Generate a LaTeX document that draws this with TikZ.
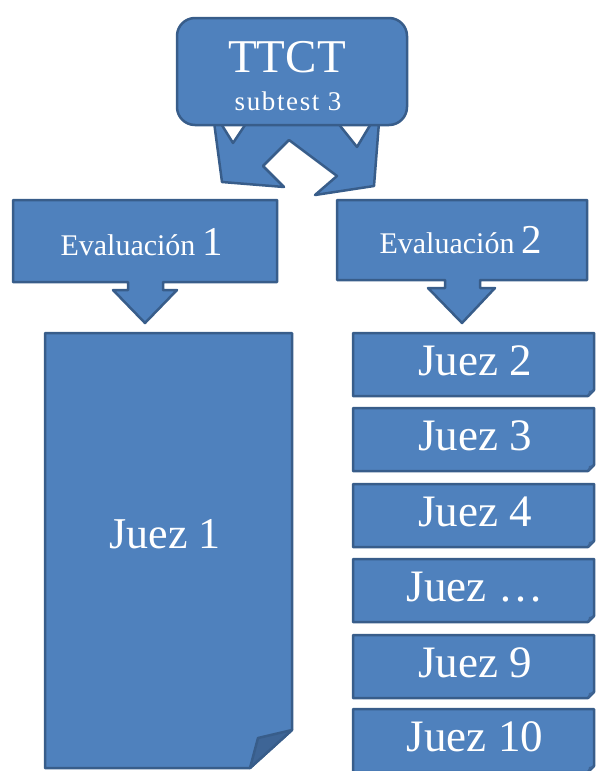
\documentclass[tikz,border=0pt]{standalone}
\usepackage{fontspec}
\setmainfont{Liberation Serif}
\definecolor{boxblue}{HTML}{4F81BD}
\definecolor{boxline}{HTML}{385D8A}
\definecolor{foldblue}{HTML}{3E6596}
\newcommand{\fsz}[1]{\fontsize{#1}{#1}\selectfont}

\begin{document}
\begin{tikzpicture}[x=1pt, y=-1pt, line join=round,
	shp/.style={fill=boxblue, draw=boxline, line width=2.5pt},
	lbl/.style={text=white, inner sep=0pt, anchor=base}]
	\useasboundingbox (0,0) rectangle (595,771);
	\def\h{63} % alto de cada juez
	% flechas bajo TTCT
	\draw[shp] (214,122) -- (222,182) -- (284,187) -- (263,166) -- (289,140) -- (337,176)
		-- (315,195) -- (374,186) -- (379,122) -- (372,122) -- (357,147) -- (337,122)
		-- (247,122) -- (233,143) -- (220,122) -- cycle;
	\draw[shp, rounded corners=18pt] (177,18) rectangle (407,125);
	\node[lbl, font=\fsz{47}] (ttct) at (287,72) {TTCT};
	\node[lbl, font=\fsz{27}\addfontfeatures{LetterSpace=6}] (sub) at (288,110) {subtest 3};
	% evaluaciones
	\draw[shp] (13,200) -- (277,200) -- (277,282) -- (163,282) -- (163,290) -- (177,290)
		-- (145,323) -- (113,290) -- (128,290) -- (128,282) -- (13,282) -- cycle;
	\node[lbl, font=\fsz{30}] (ev1) at (142,255) {Evaluación {\fsz{41}1}};
	\draw[shp] (337,200) -- (587,200) -- (587,280) -- (480,280) -- (480,288) -- (495,288)
		-- (462,323) -- (428,288) -- (445,288) -- (445,280) -- (337,280) -- cycle;
	\node[lbl, font=\fsz{30}] (ev2) at (461,253) {Evaluación {\fsz{41}2}};
	% juez 1
	\draw[shp] (45,333) -- (292,333) -- (292,730) -- (250,768) -- (45,768) -- cycle;
	\draw[shp, fill=foldblue] (250,768) -- (258,738) -- (292,730) -- cycle;
	\node[lbl, font=\fsz{44}] (j1) at (165,548) {Juez 1};
	% jueces 2 a 10
	\foreach \t/\n/\txt in {333/2/2, 408/3/3, 484/4/4, 559/5/\ldots, 635/9/9, 709/10/10}{
		\draw[shp] (353,\t) -- (594,\t) -- (594,\t+\h-6) -- (588,\t+\h) -- (353,\t+\h) -- cycle;
		\fill[foldblue] (588,\t+\h) -- (589,\t+\h-5) -- (594,\t+\h-6) -- cycle;
		\node[lbl, font=\fsz{45}] (j\n) at (475,\t+42) {Juez \txt};
	}
\end{tikzpicture}
\end{document}
